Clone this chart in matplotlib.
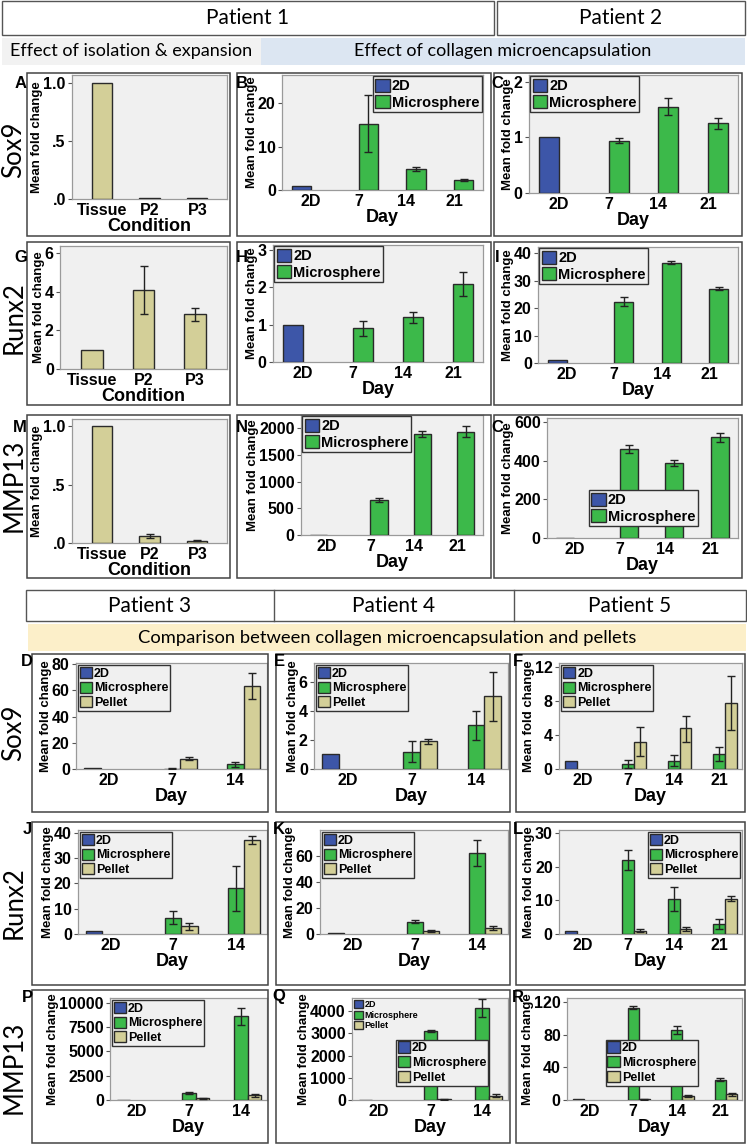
import numpy as np
import matplotlib
matplotlib.use("Agg")
import matplotlib.pyplot as plt
from matplotlib.patches import Rectangle, Patch

# ---------------- data ----------------
cond_labels = ['Tissue', 'P2', 'P3']
days4 = ['2D', '7', '14', '21']
days3 = ['2D', '7', '14']

# Patient 1 : isolation & expansion (mean, low, high)
A_mean = [1.0, 0.005, 0.005]
A_lo = [np.nan, np.nan, np.nan]
A_hi = [np.nan, np.nan, np.nan]
G_mean = [1.0, 4.1, 2.85]
G_lo = [np.nan, 2.85, 2.5]
G_hi = [np.nan, 5.3, 3.15]
M_mean = [1.0, 0.06, 0.02]
M_lo = [np.nan, 0.045, 0.015]
M_hi = [np.nan, 0.075, 0.025]

# 2D reference values
B_2d, C_2d, H_2d, I_2d, N_2d, O_2d = 1.0, 1.0, 1.0, 1.0, 1.0, 1.0
# microsphere days 7, 14, 21
B_mic = [15.3, 4.9, 2.3]; B_lo = [8.8, 4.4, 2.0]; B_hi = [22.0, 5.4, 2.6]
C_mic = [0.94, 1.55, 1.25]; C_lo = [0.90, 1.40, 1.15]; C_hi = [0.98, 1.70, 1.35]
H_mic = [0.9, 1.2, 2.1]; H_lo = [0.7, 1.05, 1.78]; H_hi = [1.1, 1.35, 2.42]
I_mic = [22.3, 36.5, 27.0]; I_lo = [20.8, 36.0, 26.4]; I_hi = [24.0, 37.0, 27.6]
N_mic = [660, 1890, 1930]; N_lo = [620, 1840, 1830]; N_hi = [700, 1950, 2040]
O_mic = [460, 388, 520]; O_lo = [440, 373, 497]; O_hi = [480, 403, 545]

# Patients 3-5 : microsphere vs pellet
D_2d, E_2d, F_2d, J_2d, K_2d, L_2d, P_2d, Q_2d, R_2d = [1.0] * 9
D_mic = [0.3, 3.5]; D_mlo = [0.2, 1.5]; D_mhi = [0.4, 5.5]
D_pel = [8.0, 63.5]; D_plo = [7.0, 53.5]; D_phi = [9.0, 73.5]
E_mic = [1.2, 3.0]; E_mlo = [0.5, 2.0]; E_mhi = [1.9, 4.0]
E_pel = [1.9, 5.0]; E_plo = [1.75, 3.3]; E_phi = [2.05, 6.7]
F_mic = [0.6, 1.0, 1.8]; F_mlo = [0.1, 0.3, 1.0]; F_mhi = [1.1, 1.7, 2.6]
F_pel = [3.2, 4.8, 7.8]; F_plo = [1.5, 3.2, 4.6]; F_phi = [4.9, 6.3, 11.0]
J_mic = [6.5, 18.0]; J_mlo = [4.0, 9.0]; J_mhi = [9.0, 27.0]
J_pel = [3.0, 37.0]; J_plo = [1.5, 35.5]; J_phi = [4.5, 38.5]
K_mic = [9.5, 62.0]; K_mlo = [8.5, 52.0]; K_mhi = [10.5, 72.0]
K_pel = [2.0, 4.5]; K_plo = [1.2, 3.0]; K_phi = [2.8, 6.0]
L_mic = [22.0, 10.5, 3.0]; L_mlo = [19.0, 7.0, 1.5]; L_mhi = [25.0, 14.0, 4.5]
L_pel = [1.0, 1.5, 10.5]; L_plo = [0.6, 0.8, 9.7]; L_phi = [1.4, 2.2, 11.3]
P_mic = [700, 8600]; P_mlo = [600, 7700]; P_mhi = [800, 9500]
P_pel = [200, 500]; P_plo = [150, 350]; P_phi = [250, 650]
Q_mic = [3100, 4150]; Q_mlo = [3060, 3750]; Q_mhi = [3140, 4550]
Q_pel = [30, 200]; Q_plo = [20, 150]; Q_phi = [40, 250]
R_mic = [113, 86, 25]; R_mlo = [111, 81, 23]; R_mhi = [115, 91, 27]
R_pel = [1, 5, 7]; R_plo = [0.5, 4, 5]; R_phi = [1.5, 6, 9]

series_names = ['2D', 'Microsphere', 'Pellet']

# ---------------- style ----------------
BLUE = '#3d56a8'
GREEN = '#3cb94a'
TAN = '#d3cf98'
EDGE = '#2a2a2a'
BG = '#f0f0f0'
FONT = 'Liberation Sans'
HFONT = 'Lato'
TICK_FS = 11.5
XLAB_FS = 13

W, H = 747, 1145
fig = plt.figure(figsize=(W / 100, H / 100), dpi=100)


def fx(x):
    return x / W


def fy(y):
    return 1 - y / H


def box(x0, y0, x1, y1, fc='none', ec='#444444', lw=1.0):
    fig.add_artist(Rectangle((fx(x0), fy(y1)), fx(x1) - fx(x0), fy(y0) - fy(y1),
                             transform=fig.transFigure, fc=fc, ec=ec, lw=lw))


def ftext(x, y, s, **kw):
    fig.text(fx(x), fy(y), s, **kw)


def make_ax(x0, y0, x1, y1):
    ax = fig.add_axes([fx(x0), fy(y1), fx(x1) - fx(x0), fy(y0) - fy(y1)])
    ax.set_facecolor(BG)
    for sp in ax.spines.values():
        sp.set_color('#9a9a9a')
        sp.set_linewidth(0.9)
    ax.tick_params(axis='both', length=3, width=0.8, color='#555555', pad=1.5)
    ax.tick_params(axis='x', length=0, pad=3)
    return ax


def style_ticks(ax, xlabels, yticks, ylabels=None, xlabel='Day'):
    ax.set_xticks(range(len(xlabels)))
    ax.set_xticklabels(xlabels, fontsize=TICK_FS, fontweight='bold', family=FONT)
    ax.set_yticks(yticks)
    if ylabels is None:
        ylabels = [str(t) for t in yticks]
    ax.set_yticklabels(ylabels, fontsize=TICK_FS, fontweight='bold', family=FONT)
    ax.set_xlabel(xlabel, fontsize=XLAB_FS, fontweight='bold', family=FONT, labelpad=0)
    ax.set_ylabel('Mean fold change', fontsize=9.5, fontweight='bold', family=FONT, labelpad=0)


def errs(ax, x, m, lo, hi):
    m = np.asarray(m, float); lo = np.asarray(lo, float); hi = np.asarray(hi, float)
    ok = ~np.isnan(lo)
    if ok.any():
        ax.errorbar(np.asarray(x, float)[ok], m[ok], yerr=[m[ok] - lo[ok], hi[ok] - m[ok]],
                    fmt='none', ecolor='#222222', elinewidth=1.0, capsize=3, capthick=1.0, zorder=4)


def legend(ax, n, fs=10, pad=0.3, **kw):
    cols = [BLUE, GREEN, TAN][:n]
    hs = [Patch(facecolor=c, edgecolor=EDGE, lw=1.0) for c in cols]
    lg = ax.legend(hs, series_names[:n], prop={'family': FONT, 'weight': 'bold', 'size': fs},
                   handlelength=1.0, handleheight=1.0, handletextpad=0.15, borderpad=0.15,
                   labelspacing=0.15, borderaxespad=pad, fancybox=False, framealpha=1, **kw)
    lg.get_frame().set_edgecolor('#333333')
    lg.get_frame().set_facecolor(BG)
    lg.get_frame().set_linewidth(1.0)
    return lg


def cond_panel(box_xy, mean, lo, hi, ylim, yticks, ylabels):
    ax = make_ax(*box_xy)
    x = np.arange(len(mean))
    ax.bar(x, mean, width=0.42, color=TAN, edgecolor=EDGE, lw=1.0, zorder=3)
    errs(ax, x, mean, lo, hi)
    ax.set_xlim(-0.62, len(mean) - 0.38)
    ax.set_ylim(*ylim)
    style_ticks(ax, cond_labels, yticks, ylabels, xlabel='Condition')
    return ax


def two_panel(box_xy, v2d, mic, lo, hi, ylim, yticks):
    ax = make_ax(*box_xy)
    w = 0.4
    ax.bar([0 - w / 2], [v2d], width=w, color=BLUE, edgecolor=EDGE, lw=1.0, zorder=3)
    xm = np.arange(1, len(mic) + 1) + w / 2
    ax.bar(xm, mic, width=w, color=GREEN, edgecolor=EDGE, lw=1.0, zorder=3)
    errs(ax, xm, mic, lo, hi)
    ax.set_xlim(-0.6, len(mic) + 0.6)
    ax.set_ylim(*ylim)
    style_ticks(ax, days4, yticks)
    return ax


def three_panel(box_xy, v2d, mic, mlo, mhi, pel, plo, phi, labels, ylim, yticks, ylabels=None):
    ax = make_ax(*box_xy)
    w = 0.26
    ax.bar([0 - w], [v2d], width=w, color=BLUE, edgecolor=EDGE, lw=1.0, zorder=3)
    xc = np.arange(1, len(mic) + 1)
    ax.bar(xc, mic, width=w, color=GREEN, edgecolor=EDGE, lw=1.0, zorder=3)
    ax.bar(xc + w, pel, width=w, color=TAN, edgecolor=EDGE, lw=1.0, zorder=3)
    errs(ax, xc, mic, mlo, mhi)
    errs(ax, xc + w, pel, plo, phi)
    ax.set_xlim(-0.52, len(mic) + 0.5)
    ax.set_ylim(*ylim)
    style_ticks(ax, labels, yticks, ylabels)
    return ax


# ---------------- headers ----------------
box(2, 1, 494, 35, ec='#555555', lw=1.0)
box(497, 1, 745, 35, ec='#555555', lw=1.0)
ftext(248, 18, 'Patient 1', family=HFONT, fontsize=15, ha='center', va='center')
ftext(621, 18, 'Patient 2', family=HFONT, fontsize=15, ha='center', va='center')
box(2, 38, 261, 65, fc='#f2f2f2', ec='none')
box(261, 38, 745, 65, fc='#dce6f2', ec='none')
ftext(131, 51, 'Effect of isolation & expansion', family=HFONT, fontsize=13, ha='center', va='center')
ftext(503, 51, 'Effect of collagen microencapsulation', family=HFONT, fontsize=13, ha='center', va='center')

box(26, 590, 746, 621, ec='#555555', lw=1.0)
fig.add_artist(plt.Line2D([fx(274), fx(274)], [fy(590), fy(621)], transform=fig.transFigure, color='#555555', lw=1.0))
fig.add_artist(plt.Line2D([fx(514), fx(514)], [fy(590), fy(621)], transform=fig.transFigure, color='#555555', lw=1.0))
ftext(150, 606, 'Patient 3', family=HFONT, fontsize=15, ha='center', va='center')
ftext(394, 606, 'Patient 4', family=HFONT, fontsize=15, ha='center', va='center')
ftext(630, 606, 'Patient 5', family=HFONT, fontsize=15, ha='center', va='center')
box(28, 624, 746, 651, fc='#fcefc9', ec='none')
ftext(387, 638, 'Comparison between collagen microencapsulation and pellets', family=HFONT,
      fontsize=13.2, ha='center', va='center')

# panel frames
top_rows = [(73, 236), (242, 405), (415, 578)]
top_cols = [(27, 230), (237, 491), (494, 742)]
for (y0, y1) in top_rows:
    for (x0, x1) in top_cols:
        box(x0, y0, x1, y1, ec='#444444', lw=1.1)
bot_rows = [(654, 812), (822, 985), (990, 1143)]
bot_cols = [(32, 268), (276, 510), (516, 745)]
for (y0, y1) in bot_rows:
    for (x0, x1) in bot_cols:
        box(x0, y0, x1, y1, ec='#444444', lw=1.1)

# row labels
for y, s in [(150, 'Sox9'), (318, 'Runx2'), (485, 'MMP13'), (733, 'Sox9'), (903, 'Runx2'), (1067, 'MMP13')]:
    ftext(14, y, s, family=HFONT, fontsize=18.5, rotation=90, ha='center', va='center')

# panel letters
letters = [('A', 21, 83), ('B', 242, 83), ('C', 497, 83),
           ('G', 21, 257), ('H', 242, 257), ('I', 497, 257),
           ('M', 20, 427), ('N', 242, 427), ('C', 497, 427),
           ('D', 27, 662), ('E', 279, 662), ('F', 518, 662),
           ('J', 27, 829), ('K', 279, 829), ('L', 518, 829),
           ('P', 27, 997), ('Q', 279, 997), ('R', 518, 997)]
for s, x, y in letters:
    ftext(x, y, s, family=FONT, fontsize=12, fontweight='bold', ha='center', va='center')

# ---------------- panels ----------------
cond_panel((72, 75, 227, 199), A_mean, A_lo, A_hi, (0, 1.07), [0, 0.5, 1.0], ['.0', '.5', '1.0'])
cond_panel((60, 246, 227, 369), G_mean, G_lo, G_hi, (0, 6.35), [0, 2, 4, 6], None)
cond_panel((72, 419, 227, 543), M_mean, M_lo, M_hi, (0, 1.06), [0, 0.5, 1.0], ['.0', '.5', '1.0'])

ax = two_panel((282, 75, 483, 190), B_2d, B_mic, B_lo, B_hi, (0, 26.5), [0, 10, 20])
legend(ax, 2, fs=10.5, pad=0.1, loc='upper right')
ax = two_panel((529, 75, 738, 193), C_2d, C_mic, C_lo, C_hi, (0, 2.12), [0, 1, 2])
legend(ax, 2, fs=10.5, pad=0.1, loc='upper left')
ax = two_panel((273, 245, 483, 362), H_2d, H_mic, H_lo, H_hi, (0, 3.14), [0, 1, 2, 3])
legend(ax, 2, fs=10.5, pad=0.1, loc='upper left')
ax = two_panel((538, 247, 738, 363), I_2d, I_mic, I_lo, I_hi, (0, 42.2), [0, 10, 20, 30, 40])
legend(ax, 2, fs=10.5, pad=0.1, loc='upper left')
ax = two_panel((301, 415, 483, 535), N_2d, N_mic, N_lo, N_hi, (0, 2250), [0, 500, 1000, 1500, 2000])
legend(ax, 2, fs=10.5, pad=0.1, loc='upper left')
ax = two_panel((547, 418, 738, 538), O_2d, O_mic, O_lo, O_hi, (0, 620), [0, 200, 400, 600])
legend(ax, 2, fs=10.5, pad=0, loc='lower left', bbox_to_anchor=(0.22, 0.1))

ax = three_panel((76, 663, 267, 769), D_2d, D_mic, D_mlo, D_mhi, D_pel, D_plo, D_phi, days3, (0, 81), [0, 20, 40, 60, 80])
legend(ax, 3, fs=9, pad=0.15, loc='upper left')
ax = three_panel((314, 663, 508, 769), E_2d, E_mic, E_mlo, E_mhi, E_pel, E_plo, E_phi, days3, (0, 7.3), [0, 2, 4, 6])
legend(ax, 3, fs=9, pad=0.15, loc='upper left')
ax = three_panel((559, 663, 742, 769), F_2d, F_mic, F_mlo, F_mhi, F_pel, F_plo, F_phi, days4, (0, 12.5), [0, 4, 8, 12])
legend(ax, 3, fs=9, pad=0.15, loc='upper left')

ax = three_panel((78, 830, 267, 934), J_2d, J_mic, J_mlo, J_mhi, J_pel, J_plo, J_phi, days3, (0, 41), [0, 10, 20, 30, 40])
legend(ax, 3, fs=9, pad=0.15, loc='upper left')
ax = three_panel((320, 830, 508, 934), K_2d, K_mic, K_mlo, K_mhi, K_pel, K_plo, K_phi, days3, (0, 80), [0, 20, 40, 60])
legend(ax, 3, fs=9, pad=0.15, loc='upper left')
ax = three_panel((559, 830, 742, 934), L_2d, L_mic, L_mlo, L_mhi, L_pel, L_plo, L_phi, days4, (0, 31), [0, 10, 20, 30])
legend(ax, 3, fs=9, pad=0.15, loc='upper right')

ax = three_panel((110, 998, 267, 1100), P_2d, P_mic, P_mlo, P_mhi, P_pel, P_plo, P_phi, days3, (0, 10500),
                 [0, 2500, 5000, 7500, 10000])
legend(ax, 3, fs=9, pad=0.15, loc='upper left')
ax = three_panel((352, 998, 508, 1100), Q_2d, Q_mic, Q_mlo, Q_mhi, Q_pel, Q_plo, Q_phi, days3, (0, 4600),
                 [0, 1000, 2000, 3000, 4000])
lg1 = legend(ax, 3, fs=6.5, pad=0.1, loc='upper left')
lg1.get_frame().set_linewidth(0)
ax.add_artist(lg1)
legend(ax, 3, fs=9, pad=0, loc='lower left', bbox_to_anchor=(0.28, 0.14))
ax = three_panel((567, 998, 742, 1100), R_2d, R_mic, R_mlo, R_mhi, R_pel, R_plo, R_phi, days4, (0, 125),
                 [0, 40, 80, 120])
legend(ax, 3, fs=9, pad=0, loc='lower left', bbox_to_anchor=(0.22, 0.14))

fig.savefig('out.png', dpi=100, facecolor='white')
